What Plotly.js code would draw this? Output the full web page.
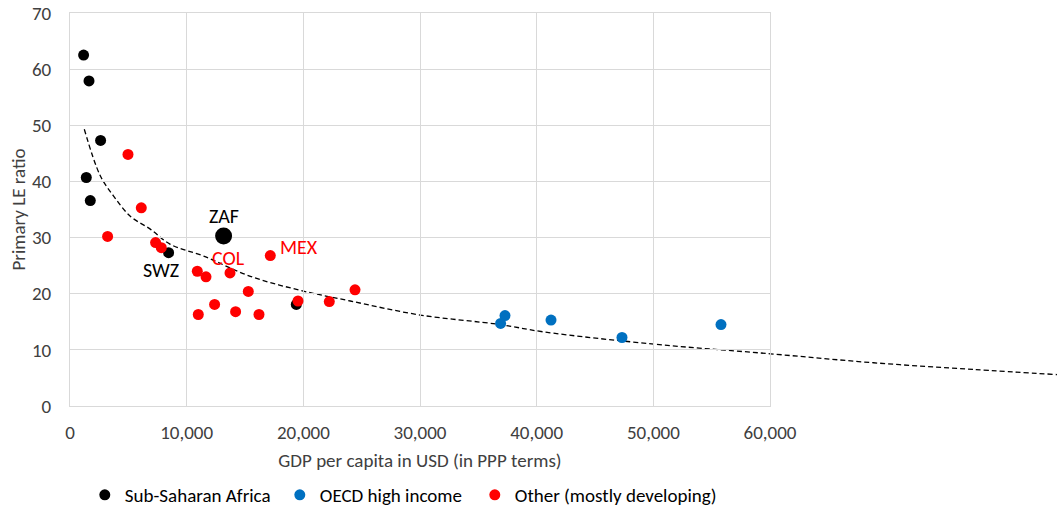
<!DOCTYPE html>
<html><head><meta charset="utf-8">
<script src="https://cdn.plot.ly/plotly-3.0.1.min.js"></script>
<style>html,body{margin:0;padding:0;background:#fff}#chart{width:1059px;height:506px}</style>
</head><body><div id="chart"></div>
<script>
// Sub-Saharan Africa
const ssaGdp = [1166, 1629, 2623, 1397, 1740, 8451, 19397];
const ssaLe  = [62.5, 57.9, 47.3, 40.7, 36.6, 27.3, 18.1];
// South Africa (highlighted)
const zafGdp = [13166];
const zafLe  = [30.3];
// OECD high income
const oecdGdp = [36909, 37286, 41229, 47314, 55800];
const oecdLe  = [14.7, 16.1, 15.3, 12.2, 14.5];
// Other (mostly developing)
const otherGdp = [4971, 6111, 3223, 7337, 7826, 10911, 11657, 13714, 15283, 12394, 10997, 14194, 16200, 17169, 19543, 22226, 24429];
const otherLe  = [44.8, 35.3, 30.2, 29.1, 28.2, 24.0, 23.0, 23.7, 20.4, 18.1, 16.3, 16.8, 16.3, 26.8, 18.7, 18.6, 20.7];
// Trend line
const trendGdp = [1226, 2597, 3737, 5168, 6883, 8597, 11451, 15454, 19740, 24025, 30025, 36882, 40594, 50168, 60025, 68877, 77449, 84596];
const trendLe  = [49.3, 41.0, 37.4, 33.8, 31.5, 28.8, 26.7, 23.1, 20.6, 18.7, 16.2, 14.5, 13.2, 11.0, 9.3, 7.7, 6.5, 5.6];
// Labels
const labelNames = ['ZAF', 'SWZ', 'COL', 'MEX'];
const xTickVals = [0, 10000, 20000, 30000, 40000, 50000, 60000];
const yTickVals = [0, 10, 20, 30, 40, 50, 60, 70];

const FONT = 'Carlito, Lato, "Liberation Sans", sans-serif';
const GRID = '#d9d9d9';
const TXT = '#404040';
const plotW = 1059 - 70 - 2;
const D = 700 / plotW;

const traces = [
  {x: trendGdp, y: trendLe, xaxis: 'x', yaxis: 'y', type: 'scatter', mode: 'lines',
   line: {color: '#000', width: 1.3, dash: '5px,3px', shape: 'spline'}, showlegend: false, hoverinfo: 'skip'},
  {x: ssaGdp, y: ssaLe, xaxis: 'x2', yaxis: 'y2', type: 'scatter', mode: 'markers', name: 'Sub-Saharan Africa',
   legendgroup: 'ssa', marker: {color: '#000000', size: 11}},
  {x: oecdGdp, y: oecdLe, xaxis: 'x2', yaxis: 'y2', type: 'scatter', mode: 'markers', name: 'OECD high income',
   marker: {color: '#0070C0', size: 11}},
  {x: otherGdp, y: otherLe, xaxis: 'x2', yaxis: 'y2', type: 'scatter', mode: 'markers', name: 'Other (mostly developing)',
   legendwidth: 260, marker: {color: '#FF0000', size: 11}},
  {x: zafGdp, y: zafLe, xaxis: 'x2', yaxis: 'y2', type: 'scatter', mode: 'markers', name: 'ZAF',
   legendgroup: 'ssa', showlegend: false, marker: {color: '#000000', size: 17}}
];

const annFont = (c) => ({family: FONT, size: 20, color: c});
const annotations = [
  {x: zafGdp[0], y: zafLe[0], text: labelNames[0], font: annFont('#000'), yshift: 20},
  {x: ssaGdp[5], y: ssaLe[5], text: labelNames[1], font: annFont('#000'), xshift: -8, yshift: -17},
  {x: otherGdp[7], y: otherLe[7], text: labelNames[2], font: annFont('#FF0000'), xshift: -2, yshift: 15},
  {x: otherGdp[13], y: otherLe[13], text: labelNames[3], font: annFont('#FF0000'), xshift: 29, yshift: 9}
].map(a => Object.assign({xref: 'x2', yref: 'y2', showarrow: false}, a));

const layout = {
  width: 1059, height: 506,
  margin: {l: 70, r: 2, t: 13, b: 100, autoexpand: false},
  paper_bgcolor: '#fff', plot_bgcolor: 'rgba(0,0,0,0)',
  font: {family: FONT, size: 19, color: TXT},
  xaxis: {domain: [0, 1], range: [0, 60000 / D], visible: false, showgrid: false, zeroline: false, anchor: 'y', fixedrange: true},
  yaxis: {domain: [0, 1], range: [0, 70], visible: false, showgrid: false, zeroline: false, anchor: 'x', fixedrange: true},
  xaxis2: {domain: [0, D], range: [0, 60000], anchor: 'y2', tickvals: xTickVals, tickformat: ',d', automargin: false,
    showgrid: true, gridcolor: GRID, gridwidth: 1, zeroline: false, showline: true, mirror: true, linecolor: GRID,
    ticks: '', ticklabelstandoff: 9, tickfont: {family: FONT, size: 19, color: TXT},
    title: {text: 'GDP per capita in USD (in PPP terms)', font: {family: FONT, size: 19, color: TXT}, standoff: 10}},
  yaxis2: {domain: [0, 1], range: [0, 70], anchor: 'x2', tickvals: yTickVals, automargin: false,
    showgrid: true, gridcolor: GRID, gridwidth: 1, zeroline: false, showline: true, mirror: true, linecolor: GRID,
    ticks: '', ticklabelstandoff: 14, tickfont: {family: FONT, size: 19, color: TXT},
    title: {text: 'Primary LE ratio', font: {family: FONT, size: 19, color: TXT}, standoff: 1}},
  legend: {orientation: 'h', x: 0.015, xanchor: 'left', y: -0.2265, yanchor: 'middle',
    entrywidth: 150, entrywidthmode: 'pixels',
    font: {family: FONT, size: 19, color: '#000'}, bgcolor: 'rgba(0,0,0,0)', traceorder: 'normal'},
  annotations: annotations,
  showlegend: true
};

Plotly.newPlot('chart', traces, layout, {displayModeBar: false, staticPlot: true});
</script>
</body></html>
